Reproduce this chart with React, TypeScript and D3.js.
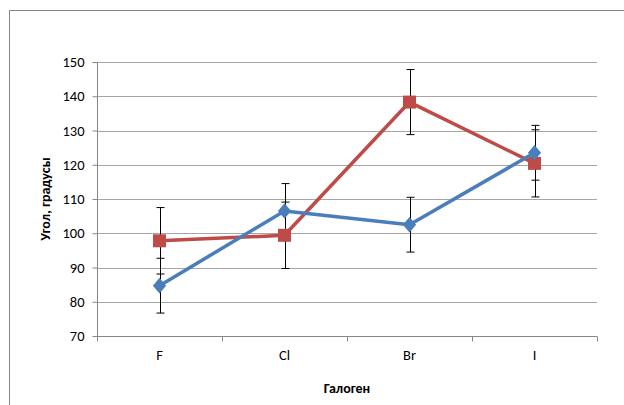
import * as d3 from 'd3';
import { FC, useEffect, useRef } from 'react';

const categories = ['F', 'Cl', 'Br', 'I'];
const blueValues = [84.7, 106.5, 102.5, 123.5];
const blueErrors = [8, 8, 8, 8];
const redValues = [97.8, 99.4, 138.3, 120.4];
const redErrors = [9.7, 9.7, 9.5, 9.8];
const yTicks = [70, 80, 90, 100, 110, 120, 130, 140, 150];
const yAxisLabel = 'Угол, градусы';
const xAxisLabel = 'Галоген';

const W = 624;
const H = 405;
const margins = { top: 62, right: 27, bottom: 69, left: 97 };
const font = 'Carlito, "Open Sans", "Noto Sans", sans-serif';

// wider diamond than d3.symbolDiamond, like the spreadsheet marker
const wideDiamond: d3.SymbolType = {
  draw(ctx, size) {
    const hw = Math.sqrt(size) * 0.55;
    const hh = Math.sqrt(size) * 0.65;
    ctx.moveTo(0, -hh);
    ctx.lineTo(hw, 0);
    ctx.lineTo(0, hh);
    ctx.lineTo(-hw, 0);
    ctx.closePath();
  },
};

const App: FC = () => {
  const ref = useRef<SVGSVGElement>(null);

  useEffect(() => {
    drawChart();
  }, []);

  const drawChart = () => {
    const root = d3.select(ref.current);
    root.selectAll('*').remove();

    const width = W - margins.left - margins.right;
    const height = H - margins.top - margins.bottom;

    root
      .append('rect')
      .attr('x', 9.5)
      .attr('y', 10.5)
      .attr('width', W)
      .attr('height', H)
      .attr('fill', '#fff')
      .attr('stroke', '#868686');

    const svg = root.append('g').attr('transform', `translate(${margins.left},${margins.top})`);

    const x = d3.scaleBand().domain(categories).range([0, width]);
    const y = d3.scaleLinear().domain([70, 150]).range([height, 0]);
    const cx = (c: string) => x(c)! + x.bandwidth() / 2;

    // gridlines
    svg
      .selectAll('.grid')
      .data(yTicks.slice(1))
      .enter()
      .append('line')
      .attr('x1', 0)
      .attr('x2', width)
      .attr('y1', (d) => Math.round(y(d)) + 0.5)
      .attr('y2', (d) => Math.round(y(d)) + 0.5)
      .attr('stroke', '#a6a6a6')
      .attr('stroke-width', 1);

    const yAxis = svg
      .append('g')
      .attr('transform', 'translate(0.5,0)')
      .call(d3.axisLeft(y).tickValues(yTicks).tickSize(5).tickPadding(8));
    yAxis.select('.domain').attr('stroke', '#868686').attr('d', `M0,${height + 0.5}V0`);
    yAxis.selectAll('.tick line').attr('stroke', '#868686');
    yAxis
      .selectAll('.tick text')
      .style('font-family', font)
      .style('font-size', '14.5px')
      .attr('fill', '#000');

    const xAxis = svg
      .append('g')
      .attr('transform', `translate(0,${Math.round(height) + 0.5})`)
      .call(d3.axisBottom(x).tickSize(0).tickPadding(13));
    xAxis.select('.domain').attr('stroke', '#868686').attr('d', `M0,0H${width}`);
    xAxis
      .selectAll('.tick text')
      .style('font-family', font)
      .style('font-size', '14.5px')
      .attr('fill', '#000');
    xAxis
      .selectAll('.boundary')
      .data(d3.range(categories.length + 1))
      .enter()
      .append('line')
      .attr('x1', (i) => Math.round(i * x.bandwidth()) + 0.5)
      .attr('x2', (i) => Math.round(i * x.bandwidth()) + 0.5)
      .attr('y1', 0)
      .attr('y2', 5)
      .attr('stroke', '#868686');

    const series = [
      { values: redValues, errors: redErrors, color: '#be4b48', shape: 'square' },
      { values: blueValues, errors: blueErrors, color: '#4a7ebb', shape: 'diamond' },
    ];

    // error bars
    series.forEach((s) => {
      const g = svg.append('g');
      categories.forEach((c, i) => {
        const top = y(s.values[i] + s.errors[i]);
        const bot = y(s.values[i] - s.errors[i]);
        const px = Math.round(cx(c)) + 0.5;
        g.append('line').attr('x1', px).attr('x2', px).attr('y1', top).attr('y2', bot).attr('stroke', '#000').attr('stroke-width', 1);
        [top, bot].forEach((v) =>
          g.append('line').attr('x1', px - 4).attr('x2', px + 4).attr('y1', v).attr('y2', v).attr('stroke', '#000').attr('stroke-width', 1)
        );
      });
    });

    const line = d3
      .line<number>()
      .x((_d, i) => cx(categories[i]))
      .y((d) => y(d));

    series.forEach((s) => {
      svg
        .append('path')
        .datum(s.values)
        .attr('d', line)
        .attr('fill', 'none')
        .attr('stroke', s.color)
        .attr('stroke-width', 3.5)
        .attr('stroke-linejoin', 'round');

      const sym = d3
        .symbol()
        .type(s.shape === 'square' ? d3.symbolSquare : wideDiamond)
        .size(s.shape === 'square' ? 169 : 144);

      svg
        .selectAll(`.m-${s.shape}`)
        .data(s.values)
        .enter()
        .append('path')
        .attr('d', sym)
        .attr('transform', (d, i) => `translate(${cx(categories[i])},${y(d)})`)
        .attr('fill', s.color);
    });

    root
      .append('text')
      .attr('transform', `translate(50,${margins.top + height / 2}) rotate(-90)`)
      .attr('text-anchor', 'middle')
      .style('font-family', font)
      .style('font-size', '14px')
      .style('font-weight', 'bold')
      .text(yAxisLabel);

    root
      .append('text')
      .attr('x', margins.left + width / 2)
      .attr('y', 393)
      .attr('text-anchor', 'middle')
      .style('font-family', font)
      .style('font-size', '14px')
      .style('font-weight', 'bold')
      .text(xAxisLabel);
  };

  return (
    <svg
      ref={ref}
      width={W}
      height={H}
      style={{ position: 'fixed', left: 0, top: 0, background: '#fff' }}
    />
  );
};

export default App;
